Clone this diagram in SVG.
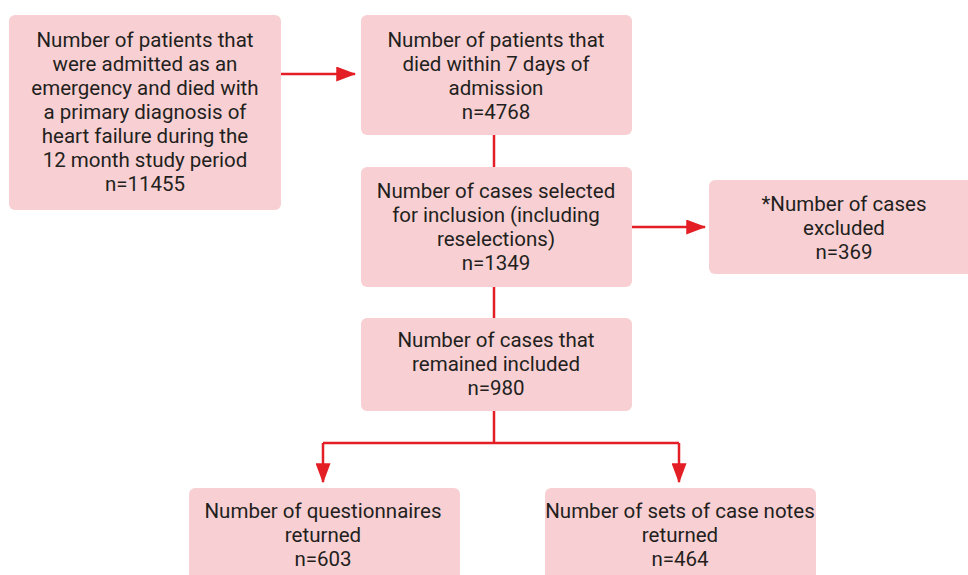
<svg xmlns="http://www.w3.org/2000/svg" width="968" height="575" viewBox="0 0 968 575">
<style>
.box{fill:#F8D0D3;}
.t{font-family:Roboto,"Noto Sans",sans-serif;font-size:20.5px;fill:#231F20;text-anchor:middle;}
.ln{stroke:#E31E24;stroke-width:2.5;fill:none;}
</style>
<defs>
<marker id="ah" markerWidth="8" markerHeight="6" refX="7.5" refY="3" orient="auto" markerUnits="strokeWidth">
<path d="M0,0 L8,3 L0,6 Z" fill="#E31E24"/>
</marker>
</defs>
<rect width="968" height="575" fill="#fff"/>
<g id="connectors">
<line class="ln" x1="281" y1="74" x2="355" y2="74" marker-end="url(#ah)"/>
<line class="ln" x1="494" y1="135" x2="494" y2="167"/>
<line class="ln" x1="632" y1="227" x2="705" y2="227" marker-end="url(#ah)"/>
<line class="ln" x1="494" y1="287" x2="494" y2="318"/>
<line class="ln" x1="494" y1="411" x2="494" y2="443"/>
<line class="ln" x1="323" y1="443" x2="679" y2="443"/>
<line class="ln" x1="323" y1="443" x2="323" y2="482" marker-end="url(#ah)"/>
<line class="ln" x1="679" y1="443" x2="679" y2="482" marker-end="url(#ah)"/>
</g>
<g id="n1"><rect class="box" x="9" y="15" width="272" height="195" rx="6"/>
<text class="t" x="145" y="47">Number of patients that</text>
<text class="t" x="145" y="71">were admitted as an</text>
<text class="t" x="145" y="95">emergency and died with</text>
<text class="t" x="145" y="119">a primary diagnosis of</text>
<text class="t" x="145" y="143">heart failure during the</text>
<text class="t" x="145" y="167">12 month study period</text>
<text class="t" x="145" y="191">n=11455</text></g>
<g id="n2"><rect class="box" x="361" y="15" width="271" height="120" rx="6"/>
<text class="t" x="496" y="47">Number of patients that</text>
<text class="t" x="496" y="71">died within 7 days of</text>
<text class="t" x="496" y="95">admission</text>
<text class="t" x="496" y="119">n=4768</text></g>
<g id="n3"><rect class="box" x="361" y="167" width="271" height="120" rx="6"/>
<text class="t" x="496" y="198">Number of cases selected</text>
<text class="t" x="496" y="222">for inclusion (including</text>
<text class="t" x="496" y="246">reselections)</text>
<text class="t" x="496" y="270">n=1349</text></g>
<g id="n4"><rect class="box" x="709" y="180" width="265" height="94" rx="6"/>
<text class="t" x="844" y="211">*Number of cases</text>
<text class="t" x="844" y="235">excluded</text>
<text class="t" x="844" y="259">n=369</text></g>
<g id="n5"><rect class="box" x="361" y="318" width="271" height="93" rx="6"/>
<text class="t" x="496" y="347">Number of cases that</text>
<text class="t" x="496" y="371">remained included</text>
<text class="t" x="496" y="395">n=980</text></g>
<g id="n6"><rect class="box" x="189" y="488" width="271" height="95" rx="6"/>
<text class="t" x="323" y="518">Number of questionnaires</text>
<text class="t" x="323" y="542">returned</text>
<text class="t" x="323" y="566">n=603</text></g>
<g id="n7"><rect class="box" x="545" y="488" width="271" height="95" rx="6"/>
<text class="t" x="680" y="518">Number of sets of case notes</text>
<text class="t" x="680" y="542">returned</text>
<text class="t" x="680" y="566">n=464</text></g>
</svg>
